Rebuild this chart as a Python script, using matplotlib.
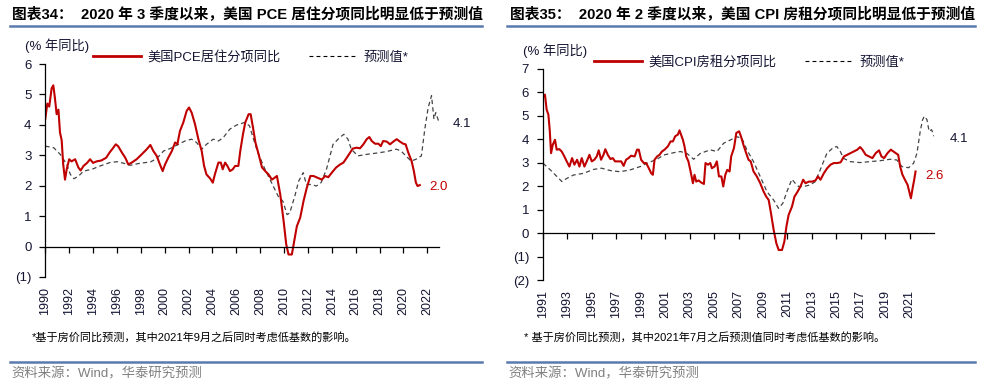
import matplotlib
matplotlib.use("Agg")
import matplotlib.pyplot as plt
from matplotlib.lines import Line2D
from matplotlib.ticker import FuncFormatter

plt.rcParams['font.family'] = ['Liberation Sans', 'Noto Sans CJK SC']

# 图表34: 美国 PCE 居住分项同比 (年份, %)
pce_year = [1990.0, 1990.17, 1990.33, 1990.53, 1990.67, 1990.8, 1990.95, 1991.1, 1991.23, 1991.37,
            1991.5, 1991.65, 1991.8, 1992.0, 1992.2, 1992.5, 1992.77, 1992.96, 1993.2, 1993.5,
            1993.75, 1994.0, 1994.3, 1994.7, 1995.1, 1995.4, 1995.7, 1995.9, 1996.1, 1996.4,
            1996.7, 1996.95, 1997.2, 1997.65, 1998.07, 1998.5, 1998.8, 1999.05, 1999.33, 1999.6,
            1999.83, 2000.03, 2000.3, 2000.6, 2000.87, 2001.06, 2001.28, 2001.56, 2001.84, 2002.04,
            2002.26, 2002.54, 2002.82, 2003.1, 2003.3, 2003.5, 2003.8, 2004.03, 2004.2, 2004.5,
            2004.7, 2004.86, 2005.06, 2005.25, 2005.47, 2005.7, 2005.9, 2006.17, 2006.33, 2006.56,
            2006.75, 2007.03, 2007.2, 2007.4, 2007.6, 2007.87, 2008.15, 2008.42, 2008.7, 2008.98,
            2009.2, 2009.4, 2009.68, 2009.96, 2010.18, 2010.37, 2010.65, 2010.85, 2011.07, 2011.35,
            2011.63, 2011.9, 2012.2, 2012.46, 2012.8, 2013.16, 2013.44, 2013.7, 2014.0, 2014.36,
            2014.7, 2014.97, 2015.25, 2015.53, 2015.75, 2016.08, 2016.36, 2016.64, 2016.92, 2017.14,
            2017.34, 2017.62, 2017.9, 2018.1, 2018.3, 2018.6, 2018.87, 2019.15, 2019.43, 2019.7,
            2019.98, 2020.18, 2020.4, 2020.68, 2020.87, 2021.04, 2021.18, 2021.37]
pce_val = [4.2, 4.7, 4.6, 5.2, 5.3, 4.9, 4.35, 4.5, 3.75, 3.5,
           2.7, 2.2, 2.55, 2.87, 2.8, 2.87, 2.6, 2.5, 2.65, 2.75,
           2.87, 2.75, 2.8, 2.83, 2.92, 3.1, 3.25, 3.36, 3.3, 3.1,
           2.92, 2.7, 2.75, 2.87, 3.03, 3.2, 3.34, 3.14, 2.98, 2.7,
           2.48, 2.7, 2.92, 3.14, 3.42, 3.36, 3.8, 4.08, 4.46, 4.57,
           4.4, 4.02, 3.53, 3.14, 2.65, 2.37, 2.24, 2.1, 2.37, 2.76,
           2.76, 2.54, 2.76, 2.65, 2.48, 2.54, 2.65, 2.65, 3.14, 3.7,
           4.08, 4.35, 4.35, 3.9, 3.42, 3.03, 2.6, 2.48, 2.37, 2.2,
           2.26, 2.32, 1.71, 0.84, 0.07, -0.26, -0.26, 0.18, 0.67, 0.95,
           1.5, 1.93, 2.32, 2.32, 2.26, 2.2, 2.32, 2.28, 2.43, 2.6,
           2.7, 2.76, 2.92, 3.09, 3.22, 3.25, 3.23, 3.36, 3.53, 3.6,
           3.47, 3.38, 3.38, 3.3, 3.47, 3.45, 3.36, 3.45, 3.53, 3.45,
           3.38, 3.36, 3.09, 2.81, 2.48, 2.1, 1.99, 2.02]

pce_fc_year = [1990.0, 1990.7, 1991.25, 1991.8, 1992.1, 1992.4, 1992.8, 1993.2, 1993.9, 1994.6,
               1995.4, 1996.0, 1996.55, 1997.1, 1997.95, 1998.8, 1999.33, 1999.9, 2000.45, 2001.15,
               2001.7, 2002.25, 2002.67, 2003.1, 2003.5, 2004.07, 2004.5, 2004.9, 2005.46, 2006.0,
               2006.7, 2007.1, 2007.4, 2007.8, 2008.4, 2008.95, 2009.5, 2009.9, 2010.25, 2010.47,
               2010.9, 2011.22, 2011.6, 2011.87, 2012.28, 2012.7, 2013.1, 2013.55, 2014.1, 2014.65,
               2015.0, 2015.35, 2015.63, 2016.18, 2016.9, 2017.7, 2018.55, 2019.4, 2019.8, 2020.2,
               2020.64, 2021.05, 2021.5, 2021.8, 2022.07, 2022.35, 2022.55, 2022.7, 2022.98]
pce_fc_val = [3.3, 3.25, 3.03, 2.7, 2.37, 2.23, 2.32, 2.48, 2.54, 2.65,
              2.76, 2.79, 2.74, 2.67, 2.74, 2.78, 2.89, 3.14, 3.22, 3.36,
              3.47, 3.53, 3.42, 3.2, 3.36, 3.53, 3.47, 3.58, 3.86, 3.99,
              4.08, 3.97, 3.58, 3.09, 2.54, 2.1, 1.66, 1.49, 1.05, 1.1,
              1.66, 2.15, 2.43, 2.04, 2.04, 1.99, 2.1, 2.54, 3.36, 3.58,
              3.69, 3.53, 3.2, 2.98, 3.03, 3.07, 3.12, 3.2, 3.14, 2.98,
              2.81, 2.87, 2.98, 3.9, 4.57, 4.96, 4.19, 4.4, 4.08]

# 图表35: 美国 CPI 房租分项同比
cpi_year = [1991.05, 1991.16, 1991.3, 1991.44, 1991.55, 1991.66, 1991.8, 1991.98, 1992.12, 1992.34,
            1992.53, 1992.75, 1992.94, 1993.16, 1993.38, 1993.57, 1993.79, 1993.98, 1994.17, 1994.39,
            1994.58, 1994.8, 1994.99, 1995.2, 1995.4, 1995.56, 1995.75, 1995.95, 1996.1, 1996.3,
            1996.52, 1996.71, 1996.9, 1997.12, 1997.4, 1997.6, 1997.8, 1998.0, 1998.2, 1998.5,
            1998.7, 1998.84, 1999.03, 1999.25, 1999.44, 1999.66, 1999.85, 1999.99, 2000.13, 2000.34,
            2000.54, 2000.73, 2000.95, 2001.22, 2001.44, 2001.63, 2001.82, 2002.04, 2002.17, 2002.3,
            2002.45, 2002.58, 2002.72, 2002.9, 2003.08, 2003.27, 2003.4, 2003.54, 2003.73, 2003.95,
            2004.17, 2004.3, 2004.5, 2004.69, 2004.82, 2005.04, 2005.23, 2005.4, 2005.6, 2005.75,
            2005.92, 2006.08, 2006.27, 2006.4, 2006.63, 2006.82, 2007.05, 2007.2, 2007.4, 2007.63,
            2007.82, 2008.0, 2008.23, 2008.5, 2008.78, 2009.05, 2009.27, 2009.47, 2009.66, 2009.88,
            2010.1, 2010.29, 2010.56, 2010.75, 2010.92, 2011.1, 2011.38, 2011.58, 2011.8, 2012.07,
            2012.29, 2012.48, 2012.75, 2013.03, 2013.3, 2013.5, 2013.71, 2013.99, 2014.26, 2014.53,
            2014.8, 2015.08, 2015.36, 2015.63, 2015.9, 2016.18, 2016.45, 2016.73, 2016.95, 2017.14,
            2017.41, 2017.68, 2017.96, 2018.23, 2018.5, 2018.7, 2018.92, 2019.19, 2019.47, 2019.68,
            2019.88, 2020.07, 2020.23, 2020.42, 2020.62, 2020.84, 2020.97, 2021.11, 2021.25, 2021.38,
            2021.49]
cpi_val = [5.83, 5.9, 5.26, 5.05, 4.4, 3.41, 3.77, 3.98, 3.56, 3.58,
           3.48, 3.27, 3.06, 2.84, 3.2, 2.92, 3.13, 2.84, 3.2, 2.84,
           3.06, 3.34, 3.06, 3.13, 3.27, 3.53, 3.13, 3.34, 3.58, 3.34,
           3.16, 3.2, 3.06, 3.06, 3.06, 2.87, 3.13, 3.2, 3.3, 3.27,
           3.56, 3.56, 3.13, 2.99, 2.99, 2.77, 2.56, 2.49, 3.13, 3.27,
           3.34, 3.48, 3.56, 3.7, 3.91, 3.91, 4.13, 4.2, 4.38, 4.2,
           3.98, 3.7, 3.27, 3.06, 2.63, 2.13, 2.49, 2.2, 2.25, 2.16,
           2.1, 2.99, 2.92, 2.99, 2.77, 2.84, 3.06, 2.42, 2.42, 1.99,
           2.49, 2.7, 2.63, 3.27, 3.63, 4.27, 4.34, 4.13, 3.77, 3.41,
           3.13, 3.06, 2.63, 2.42, 2.13, 1.78, 1.56, 1.42, 0.85, 0.14,
           -0.43, -0.71, -0.71, -0.36, 0.28, 0.78, 1.14, 1.56, 1.74, 1.99,
           2.28, 2.13, 2.2, 2.2, 2.25, 2.42, 2.28, 2.56, 2.77, 2.92,
           2.99, 2.99, 3.02, 3.27, 3.34, 3.41, 3.48, 3.56, 3.67, 3.56,
           3.34, 3.27, 3.2, 3.41, 3.53, 3.27, 3.2, 3.41, 3.56, 3.48,
           3.41, 3.34, 2.84, 2.49, 2.28, 2.06, 1.78, 1.49, 1.92, 2.28,
           2.63]

cpi_fc_year = [1991.0, 1991.6, 1992.15, 1992.55, 1992.96, 1993.5, 1994.3, 1995.15, 1995.8, 1996.5,
               1997.3, 1998.15, 1998.96, 1999.5, 2000.33, 2000.87, 2001.7, 2002.24, 2002.78, 2003.33,
               2003.87, 2004.69, 2005.24, 2005.78, 2006.33, 2006.87, 2007.28, 2007.69, 2008.23, 2008.78,
               2009.33, 2009.87, 2010.28, 2010.63, 2010.96, 2011.37, 2011.64, 2011.92, 2012.33, 2012.87,
               2013.28, 2013.69, 2014.23, 2014.78, 2015.05, 2015.33, 2015.6, 2016.14, 2016.96, 2017.78,
               2018.6, 2019.4, 2019.96, 2020.37, 2020.92, 2021.33, 2021.6, 2021.87, 2022.06, 2022.2,
               2022.42, 2022.6, 2022.8, 2023.0]
cpi_fc_val = [2.98, 2.7, 2.41, 2.2, 2.34, 2.48, 2.55, 2.72, 2.77, 2.67,
              2.62, 2.7, 2.84, 2.98, 3.15, 3.33, 3.43, 3.48, 3.4, 3.15,
              3.4, 3.55, 3.48, 3.83, 3.97, 4.11, 4.04, 3.55, 3.05, 2.41,
              1.77, 1.42, 1.06, 1.28, 1.77, 2.3, 2.13, 1.99, 1.99, 2.06,
              2.2, 2.7, 3.4, 3.66, 3.69, 3.48, 3.19, 3.05, 3.01, 3.05,
              3.09, 3.15, 3.12, 2.84, 2.79, 2.98, 3.4, 4.33, 4.82, 4.98,
              4.84, 4.34, 4.41, 4.13]

RED = '#c00000'
DASH = '#444444'
TXT = '#141432'
RULE = '#5a7bb0'

W, H = 988, 390
fig = plt.figure(figsize=(W / 100, H / 100), dpi=100)


def fx(px):
    return px / W


def fy(py):
    return 1 - py / H


def neg_fmt(v, _):
    v = int(round(v))
    return f"({abs(v)})" if v < 0 else f"{v}"


def setup_axes(ax, x0, x1, ylo, yhi):
    ax.set_xlim(x0, x1)
    ax.set_ylim(ylo, yhi)
    ax.spines['top'].set_visible(False)
    ax.spines['right'].set_visible(False)
    ax.spines['bottom'].set_position(('data', 0))
    for s in ['left', 'bottom']:
        ax.spines[s].set_linewidth(0.9)
    ticks = list(range(x0, x1, 2))
    ax.set_xticks(ticks)
    ax.tick_params(axis='x', direction='out', length=4, width=0.9, labelbottom=False)
    ax.set_yticks(range(ylo, yhi + 1))
    ax.yaxis.set_major_formatter(FuncFormatter(neg_fmt))
    ax.tick_params(axis='y', direction='out', length=4, width=0.9, pad=6,
                   labelsize=9.5, labelcolor=TXT)
    # 年份标签放在坐标轴底部
    sec = ax.secondary_xaxis('bottom')
    sec.set_xticks(ticks)
    sec.set_xticklabels([str(t) for t in ticks])
    sec.spines['bottom'].set_visible(False)
    sec.tick_params(length=0, pad=7, labelsize=9, labelrotation=90, labelcolor=TXT)


def add_legend(ax, red_label, x_px, y_px):
    h1 = Line2D([], [], color=RED, lw=2.0)
    h2 = Line2D([], [], color='black', lw=0.8, dashes=(3.5, 2.8))
    ax.legend([h1, h2], [red_label, '预测值*'], ncol=2, frameon=False,
              loc='center left', bbox_to_anchor=(fx(x_px), fy(y_px)),
              bbox_transform=fig.transFigure, borderaxespad=0, borderpad=0,
              handlelength=3.6, handletextpad=0.55, columnspacing=2.1,
              prop={'size': 9.5}, labelcolor=TXT)


def panel_frame(x_left, x_right, title, note, note_x, title_x):
    fig.text(fx(title_x), fy(15), title, fontsize=10.6, fontweight='bold',
             va='center', ha='left', color='black')
    fig.add_artist(Line2D([fx(x_left), fx(x_right)], [fy(25.5), fy(25.5)],
                          color=RULE, lw=1.8))
    fig.add_artist(Line2D([fx(x_left), fx(x_right)], [fy(362), fy(362)],
                          color=RULE, lw=1.8))
    fig.text(fx(note_x), fy(337), note, fontsize=8, va='center', ha='left', color='black')
    fig.text(fx(x_left + 1), fy(374), '资料来源：Wind，华泰研究预测', fontsize=9.6,
             va='center', ha='left', color='#808080')


# 左图
ax1 = fig.add_axes([fx(45.3), fy(277), fx(394), 213 / H])
ax1.plot(pce_fc_year, pce_fc_val, color=DASH, lw=0.9, dashes=(3.5, 2.5))
ax1.plot(pce_year, pce_val, color=RED, lw=1.5)
setup_axes(ax1, 1990, 2023, -1, 6)
ax1.text(2024.1, pce_fc_val[-1] - 0.05, f"{pce_fc_val[-1]:.1f}", fontsize=9.5,
         color=TXT, va='center', ha='left', clip_on=False)
ax1.text(2022.2, pce_val[-1] - 0.07, f"{pce_val[-1]:.1f}", fontsize=9.5,
         color=RED, va='center', ha='left', clip_on=False)
fig.text(fx(25), fy(46), '(% 年同比)', fontsize=9.5, color=TXT, va='center', ha='left')
add_legend(ax1, '美国PCE居住分项同比', 93, 57)
panel_frame(10, 482, '图表34：  2020 年 3 季度以来，美国 PCE 居住分项同比明显低于预测值',
            '*基于房价同比预测，其中2021年9月之后同时考虑低基数的影响。', 32, 12)

# 右图
ax2 = fig.add_axes([fx(543), fy(280.3), fx(391), 211.5 / H])
ax2.plot(cpi_fc_year, cpi_fc_val, color=DASH, lw=0.9, dashes=(3.5, 2.5))
ax2.plot(cpi_year, cpi_val, color=RED, lw=1.5)
setup_axes(ax2, 1991, 2023, -2, 7)
ax2.text(2024.3, cpi_fc_val[-1] - 0.1, f"{cpi_fc_val[-1]:.1f}", fontsize=9.5,
         color=TXT, va='center', ha='left', clip_on=False)
ax2.text(2022.3, cpi_val[-1] - 0.2, f"{cpi_val[-1]:.1f}", fontsize=9.5,
         color=RED, va='center', ha='left', clip_on=False)
fig.text(fx(523), fy(51), '(% 年同比)', fontsize=9.5, color=TXT, va='center', ha='left')
add_legend(ax2, '美国CPI房租分项同比', 594, 62)
panel_frame(507, 975, '图表35：  2020 年 2 季度以来，美国 CPI 房租分项同比明显低于预测值',
            '* 基于房价同比预测，其中2021年7月之后预测值同时考虑低基数的影响。', 524, 510)

fig.savefig('out.png', dpi=100)
